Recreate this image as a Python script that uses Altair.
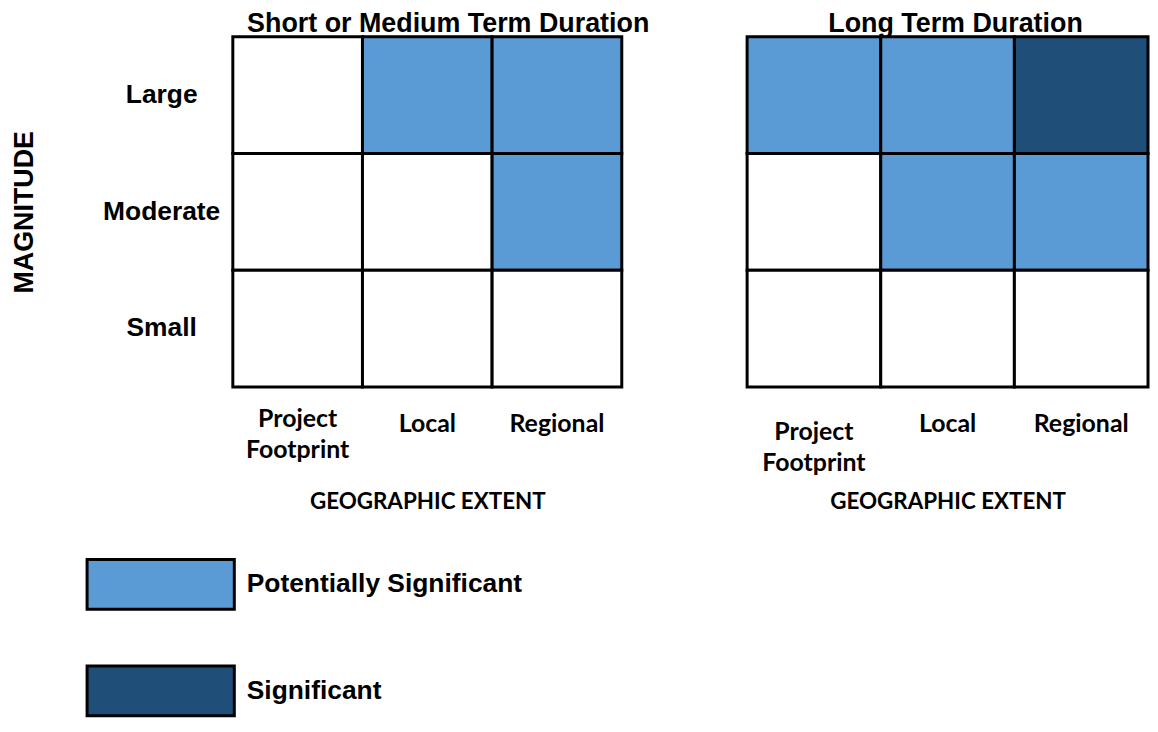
import altair as alt
import pandas as pd

# ---- data ----
extents = ["Project Footprint", "Local", "Regional"]
magnitudes = ["Large", "Moderate", "Small"]
categories = ["None", "Potentially Significant", "Significant"]
colors = ["#ffffff", "#5B9BD5", "#1F4E79"]
panel_titles = ["Short or Medium Term Duration", "Long Term Duration"]

# rows follow magnitudes (Large, Moderate, Small); columns follow extents
short_term = [
    ["None", "Potentially Significant", "Potentially Significant"],
    ["None", "None", "Potentially Significant"],
    ["None", "None", "None"],
]
long_term = [
    ["Potentially Significant", "Potentially Significant", "Significant"],
    ["None", "Potentially Significant", "Potentially Significant"],
    ["None", "None", "None"],
]
legend_items = ["Potentially Significant", "Significant"]


def to_df(grid):
    rows = []
    for i, m in enumerate(magnitudes):
        for j, e in enumerate(extents):
            rows.append({"magnitude": m, "extent": e, "category": grid[i][j]})
    return pd.DataFrame(rows)


ARIAL = "Liberation Sans"
CALIBRI = "Lato"


def panel(df, title, width, show_y, show_legend, pf_pad, dx):
    x_axis = alt.Axis(
        title="GEOGRAPHIC EXTENT", orient="bottom", ticks=False, tickSize=0,
        domain=False, grid=False, labelAngle=0,
        labelFont=CALIBRI, labelFontSize=25, labelFontWeight="bold", labelColor="black",
        labelExpr="datum.value == 'Project Footprint' ? ['Project', 'Footprint'] : datum.label",
        labelLineHeight=31, labelBaseline="top",
        labelPadding={"condition": {"test": "datum.value == 'Project Footprint'", "value": pf_pad}, "value": 25},
        titleFont=CALIBRI, titleFontSize=22.5, titleFontWeight="bold", titleColor="black",
        titleY=115, titleBaseline="middle",
    )
    if show_y:
        y_enc = alt.Y("magnitude:N", sort=magnitudes, scale=alt.Scale(paddingInner=0, paddingOuter=0),
                      axis=alt.Axis(
                          title="MAGNITUDE", ticks=False, tickSize=0, domain=False, grid=False,
                          labelFont=ARIAL, labelFontSize=26.5, labelFontWeight="bold", labelColor="black",
                          labelAlign="center", labelBaseline="middle", labelPadding=72,
                          titleFont=ARIAL, titleFontSize=27, titleFontWeight="bold", titleColor="black",
                          titleAngle=270, titleX=-209, titleY=176, titleAlign="center",
                          titleBaseline="middle",
                      ))
    else:
        y_enc = alt.Y("magnitude:N", sort=magnitudes, scale=alt.Scale(paddingInner=0, paddingOuter=0),
                      axis=None)
    if show_legend:
        legend = alt.Legend(
            values=legend_items, orient="none", legendX=-99, legendY=524, title=None,
            symbolType="M-2.96,-1H2.96V1H-2.96Z", symbolSize=2500,
            symbolStrokeColor="black", symbolStrokeWidth=3, symbolOpacity=1,
            labelFont=ARIAL, labelFontSize=26.5, labelFontWeight="bold", labelColor="black",
            labelOffset=60, labelLimit=500, rowPadding=44, padding=0,
        )
    else:
        legend = None
    return alt.Chart(df).mark_rect(stroke="black", strokeWidth=3).encode(
        x=alt.X("extent:N", sort=extents, scale=alt.Scale(paddingInner=0, paddingOuter=0), axis=x_axis),
        y=y_enc,
        color=alt.Color("category:N", scale=alt.Scale(domain=categories, range=colors), legend=legend),
    ).properties(
        width=width, height=352,
        title=alt.TitleParams(text=title, font=ARIAL, fontSize=27, fontWeight="bold", color="black",
                              offset=5, baseline="alphabetic", anchor="middle", dx=dx, dy=29,
                              frame="group"),
    )


left = panel(to_df(short_term), panel_titles[0], 391, True, True, 20, 21)
right = panel(to_df(long_term), panel_titles[1], 403, False, False, 33, 8)

chart = alt.hconcat(left, right, spacing=126, bounds="flush").resolve_scale(
    color="independent").resolve_legend(color="independent").properties(
    padding={"left": 2, "top": 0, "right": 0, "bottom": 0}
).configure_view(stroke=None).configure(background="white")

chart.save("out.html", embed_options={"renderer": "svg", "actions": False})
